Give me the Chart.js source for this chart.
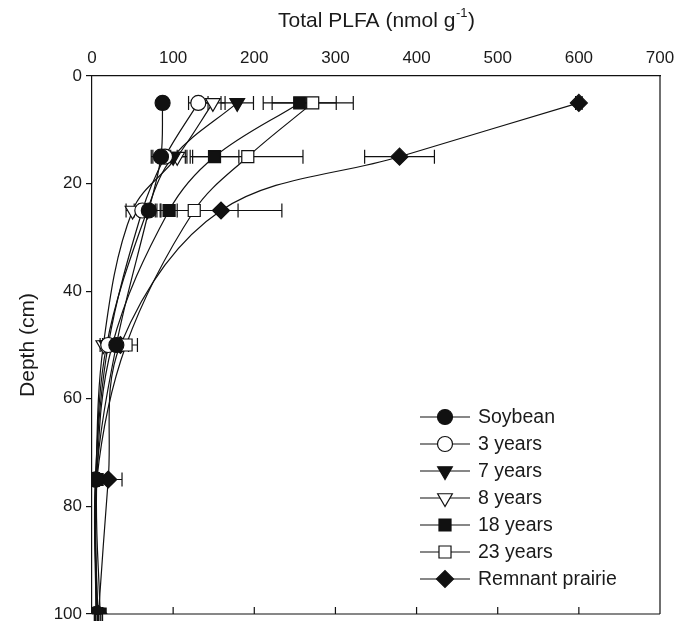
<!DOCTYPE html>
<html><head><meta charset="utf-8">
<script src="https://cdn.jsdelivr.net/npm/chart.js@4.4.1/dist/chart.umd.min.js"></script>
<style>html,body{margin:0;padding:0;background:#fff}#wrap{width:674px;height:625px;position:relative}</style>
</head><body><div id="wrap"><canvas id="c" width="674" height="625"></canvas></div>
<script>
// ---- data ----
const depths = [5, 15, 25, 50, 75, 100];
const seriesNames = ['Soybean', '3 years', '7 years', '8 years', '18 years', '23 years', 'Remnant prairie'];
const soybean   = [87, 85, 70, 30, 5, 6];
const soybeanErr = [5, 12, 10, 8, 2, 2];
const yr3       = [131, 90, 62, 20, 4, 5];
const yr3Err    = [12, 15, 10, 5, 2, 2];
const yr7       = [179, 100, 68, 18, 5, 6];
const yr7Err    = [20, 15, 10, 5, 2, 2];
const yr8       = [149, 105, 50, 14, 5, 5];
const yr8Err    = [15, 12, 8, 4, 2, 2];
const yr18      = [256, 151, 95, 25, 6, 10];
const yr18Err   = [45, 30, 10, 6, 3, 3];
const yr23      = [272, 192, 126, 42, 6, 7];
const yr23Err   = [50, 68, 54, 14, 3, 3];
const prairie   = [600, 379, 159, 35, 20, 8];
const prairieErr = [4, 43, 75, 10, 17, 3];
const xTicks = [0, 100, 200, 300, 400, 500, 600, 700];
const yTicks = [0, 20, 40, 60, 80, 100];

const values = [soybean, yr3, yr7, yr8, yr18, yr23, prairie];
const errors = [soybeanErr, yr3Err, yr7Err, yr8Err, yr18Err, yr23Err, prairieErr];

// ---- styles ----
const INK = '#111';
const TXT = '#1a1a1a';
const FONT = '"Liberation Sans", Arial, Helvetica, sans-serif';
const markerStyles = [
  {pointStyle: 'circle', radius: 7.5, fill: INK, rotation: 0},
  {pointStyle: 'circle', radius: 7.5, fill: '#fff', rotation: 0},
  {pointStyle: 'triangle', radius: 8.5, fill: INK, rotation: 180},
  {pointStyle: 'triangle', radius: 8.5, fill: '#fff', rotation: 180},
  {pointStyle: 'rect', radius: 8.5, fill: INK, rotation: 0},
  {pointStyle: 'rect', radius: 8.5, fill: '#fff', rotation: 0},
  {pointStyle: 'rectRot', radius: 8.5, fill: INK, rotation: 0}
];

const datasets = seriesNames.map((name, i) => ({
  label: name,
  data: depths.map((d, j) => ({x: values[i][j], y: d})),
  errs: errors[i],
  showLine: true,
  tension: 0.35,
  borderColor: INK,
  borderWidth: 1.2,
  pointStyle: markerStyles[i].pointStyle,
  pointRadius: markerStyles[i].radius,
  pointRotation: markerStyles[i].rotation,
  pointBackgroundColor: markerStyles[i].fill,
  pointBorderColor: INK,
  pointBorderWidth: 1.2,
  pointHoverRadius: markerStyles[i].radius
}));

const errorBars = {
  id: 'errorBars',
  beforeDatasetsDraw(chart) {
    const ctx = chart.ctx, xs = chart.scales.x, ys = chart.scales.y;
    ctx.save();
    ctx.strokeStyle = INK; ctx.lineWidth = 1.2;
    chart.data.datasets.forEach(ds => {
      ds.data.forEach((p, j) => {
        const e = ds.errs[j];
        const y = ys.getPixelForValue(p.y);
        const x1 = xs.getPixelForValue(p.x - e), x2 = xs.getPixelForValue(p.x + e);
        ctx.beginPath();
        ctx.moveTo(x1, y); ctx.lineTo(x2, y);
        ctx.moveTo(x1, y - 7); ctx.lineTo(x1, y + 7);
        ctx.moveTo(x2, y - 7); ctx.lineTo(x2, y + 7);
        ctx.stroke();
      });
    });
    ctx.restore();
  }
};

function drawMarker(ctx, st, x, y) {
  ctx.save();
  ctx.fillStyle = st.fill; ctx.strokeStyle = INK; ctx.lineWidth = 1.2;
  if (Chart.helpers && Chart.helpers.drawPoint) {
    Chart.helpers.drawPoint(ctx, {pointStyle: st.pointStyle, rotation: st.rotation, radius: st.radius, borderWidth: 1.2}, x, y);
  } else {
    ctx.beginPath(); ctx.arc(x, y, st.radius, 0, Math.PI * 2); ctx.fill(); ctx.stroke();
  }
  ctx.restore();
}

const decor = {
  id: 'decor',
  afterDraw(chart) {
    const ctx = chart.ctx, a = chart.chartArea, xs = chart.scales.x;
    ctx.save();
    ctx.strokeStyle = INK; ctx.lineWidth = 1.2;
    // right border and bottom border
    ctx.beginPath();
    ctx.moveTo(a.right, a.top); ctx.lineTo(a.right, a.bottom);
    ctx.moveTo(a.left, a.bottom); ctx.lineTo(a.right, a.bottom);
    // bottom inward ticks
    xTicks.forEach(v => {
      const px = xs.getPixelForValue(v);
      ctx.moveTo(px, a.bottom); ctx.lineTo(px, a.bottom - 7);
    });
    ctx.stroke();

    // top title with superscript
    ctx.fillStyle = TXT;
    ctx.textBaseline = 'alphabetic';
    const big = '21px ' + FONT, small = '13px ' + FONT;
    const p1 = 'Total PLFA (nmol g', p2 = '-1', p3 = ')';
    ctx.font = big; const w1 = ctx.measureText(p1).width, w3 = ctx.measureText(p3).width;
    ctx.font = small; const w2 = ctx.measureText(p2).width;
    let x0 = (a.left + a.right) / 2 - (w1 + w2 + w3) / 2;
    const by = 27;
    ctx.textAlign = 'left';
    ctx.font = big; ctx.fillText(p1, x0, by);
    ctx.font = small; ctx.fillText(p2, x0 + w1 + 0.5, by - 10);
    ctx.font = big; ctx.fillText(p3, x0 + w1 + w2 + 1, by);

    // y title
    ctx.save();
    ctx.translate(28, (a.top + a.bottom) / 2);
    ctx.rotate(-Math.PI / 2);
    ctx.textAlign = 'center'; ctx.textBaseline = 'middle';
    ctx.font = big;
    ctx.fillText('Depth (cm)', 0, 0);
    ctx.restore();

    // legend
    const lx = 420, ly = 417, gap = 27;
    const lfont = '19.5px ' + FONT;
    chart.data.datasets.forEach((ds, i) => {
      const y = ly + i * gap;
      ctx.strokeStyle = INK; ctx.lineWidth = 1.2;
      ctx.beginPath(); ctx.moveTo(lx, y); ctx.lineTo(lx + 50, y); ctx.stroke();
      drawMarker(ctx, markerStyles[i], lx + 25, y);
      ctx.fillStyle = TXT; ctx.font = lfont; ctx.textAlign = 'left'; ctx.textBaseline = 'middle';
      ctx.fillText(ds.label, lx + 58, y + 1);
    });
    ctx.restore();
  }
};

new Chart(document.getElementById('c'), {
  type: 'scatter',
  data: {datasets},
  options: {
    responsive: false,
    animation: false,
    devicePixelRatio: 1,
    layout: {padding: {left: 0, right: 14, top: 0, bottom: 11}},
    plugins: {legend: {display: false}, tooltip: {enabled: false}},
    scales: {
      x: {
        type: 'linear', position: 'top', min: 0, max: 700,
        afterBuildTicks(s) { s.ticks = xTicks.map(v => ({value: v})); },
        ticks: {color: TXT, font: {family: FONT, size: 17}, padding: 7},
        grid: {drawOnChartArea: false, drawTicks: false},
        border: {display: true, color: INK, width: 1.2},
        afterFit(s) { s.height = 76; s.paddingLeft = 0; s.paddingRight = 0; }
      },
      y: {
        type: 'linear', reverse: true, min: 0, max: 100,
        afterBuildTicks(s) { s.ticks = yTicks.map(v => ({value: v})); },
        ticks: {color: TXT, font: {family: FONT, size: 17}, padding: 4},
        grid: {drawOnChartArea: false, drawTicks: true, tickLength: 6, color: INK, lineWidth: 1.2},
        border: {display: true, color: INK, width: 1.2},
        afterFit(s) { s.width = 92; s.paddingTop = 0; s.paddingBottom = 0; }
      }
    }
  },
  plugins: [errorBars, decor]
});
</script>
</body></html>
